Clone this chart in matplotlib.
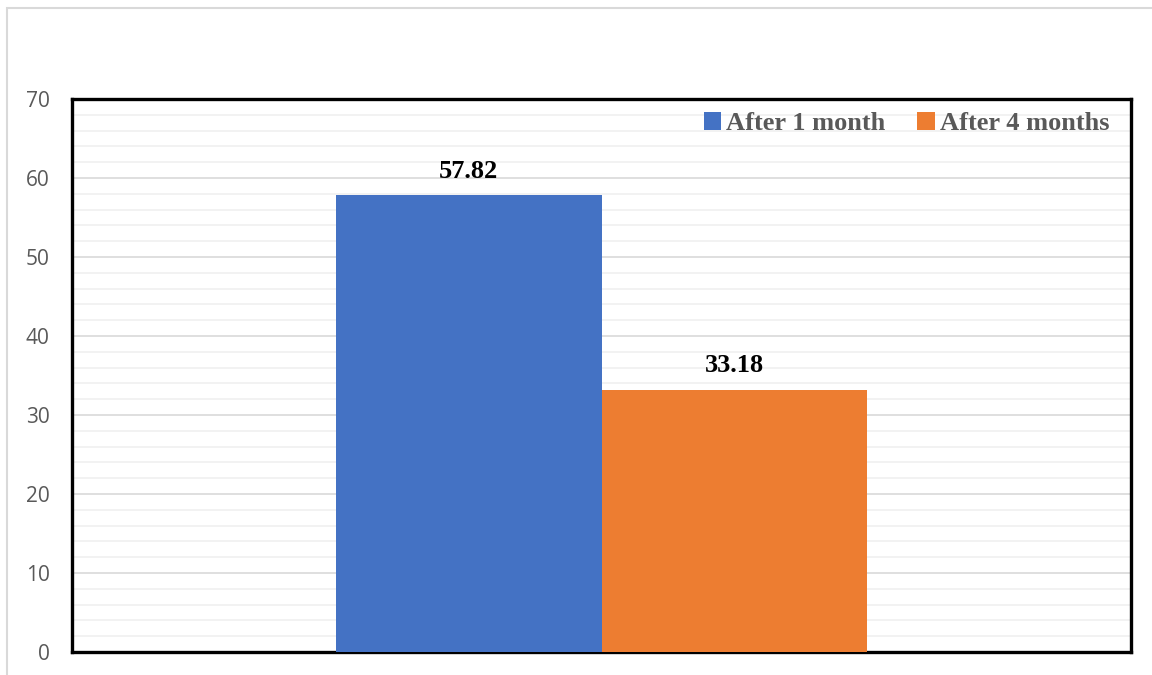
import matplotlib.pyplot as plt
from matplotlib.patches import Rectangle
from matplotlib.ticker import MultipleLocator

# Datos
series = ['After 1 month', 'After 4 months']
valores = [57.82, 33.18]
colores = ['#4472C4', '#ED7D31']
yticks = [0, 10, 20, 30, 40, 50, 60, 70]

fig = plt.figure(figsize=(11.52, 6.75), dpi=100)

# Marco exterior del gráfico
fig.patches.append(Rectangle((7 / 1152, -0.05), 1.1, 1.05 - 8 / 675,
                             transform=fig.transFigure, fill=False,
                             edgecolor='#D9D9D9', linewidth=1.5))

ax = fig.add_axes([72 / 1152, 1 - 652 / 675, 1059 / 1152, 553 / 675])

ancho = 0.251
pos = [-ancho / 2, ancho / 2]
for i in range(len(series)):
    ax.bar(pos[i], valores[i], width=ancho, color=colores[i],
           label=series[i], zorder=3)
    ax.text(pos[i], valores[i] + 1.6, '{0:.2f}'.format(valores[i]),
            ha='center', va='bottom', fontsize=19, fontweight='bold',
            family='Liberation Serif', color='black', zorder=4)

ax.set_xlim(-0.5, 0.5)
ax.set_ylim(0, 70)
ax.set_yticks(yticks)
ax.yaxis.set_minor_locator(MultipleLocator(2))
ax.set_xticks([])
ax.grid(axis='y', which='major', color='#D9D9D9', linewidth=1.2, zorder=0)
ax.grid(axis='y', which='minor', color='#F0F0F0', linewidth=1.2, zorder=0)
ax.tick_params(axis='y', which='both', length=0, pad=16,
               labelsize=15, labelcolor='#595959')
for lab in ax.get_yticklabels():
    lab.set_family('Open Sans')
for s in ax.spines.values():
    s.set_linewidth(2.4)
    s.set_color('black')

leg = ax.legend(loc='upper right', bbox_to_anchor=(0.992, 1.0), ncol=2,
                frameon=False,
                prop={'family': 'Liberation Serif', 'weight': 'bold',
                      'size': 19},
                handlelength=0.65, handleheight=0.65, handletextpad=0.2,
                columnspacing=1.2, borderaxespad=0.1)
for t in leg.get_texts():
    t.set_color('#595959')

fig.savefig('out.png', dpi=100)
